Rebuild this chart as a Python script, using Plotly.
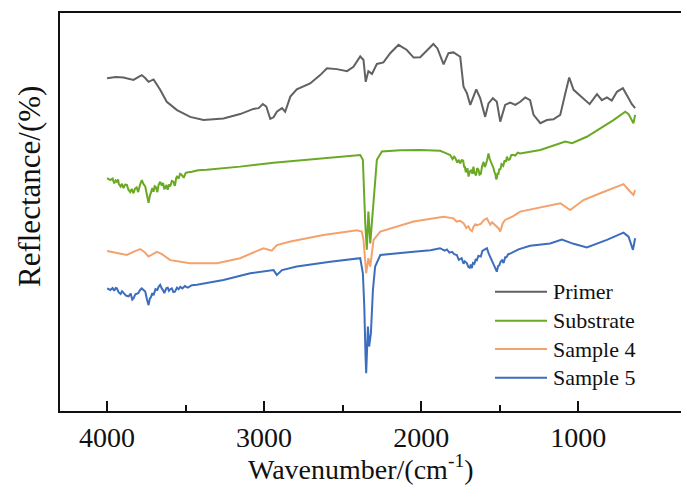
import plotly.graph_objects as go

# FTIR reflectance spectra (wavenumber in cm^-1, reflectance offset for display)
primer_wn = [4000, 3945, 3896, 3863, 3832, 3802, 3779, 3756, 3736, 3704, 3662, 3620, 3555, 3471,
             3386, 3259, 3153, 3068, 3035, 3008, 2986, 2961, 2940, 2919, 2886, 2866, 2833, 2792,
             2707, 2643, 2600, 2537, 2472, 2431, 2388, 2367, 2353, 2336, 2313, 2282, 2240, 2197,
             2144, 2091, 2048, 2006, 1963, 1922, 1896, 1857, 1826, 1794, 1751, 1730, 1708, 1687,
             1649, 1624, 1592, 1571, 1543, 1518, 1496, 1465, 1433, 1400, 1369, 1337, 1306, 1284,
             1241, 1199, 1157, 1114, 1082, 1057, 1029, 966, 927, 880, 849, 817, 786, 753, 715,
             679, 658, 637]
primer_r = [83.6, 83.9, 83.8, 83.5, 83.2, 83.9, 84.4, 83.6, 82.7, 83.3, 80.7, 77.7, 75.6, 73.9,
            73.1, 73.5, 74.6, 75.9, 76.1, 77.1, 76.5, 73.4, 73.8, 75.2, 76.1, 75.2, 79.0, 80.8,
            82.3, 84.4, 86.1, 85.9, 85.4, 86.5, 89.1, 88.2, 82.7, 85.4, 84.7, 87.2, 87.6, 89.9,
            92.0, 90.7, 88.8, 88.9, 90.7, 92.2, 91.1, 87.1, 89.9, 90.1, 89.0, 81.5, 79.8, 76.9,
            80.8, 78.6, 73.9, 77.3, 78.6, 77.7, 72.7, 76.9, 77.5, 76.9, 77.7, 78.8, 78.1, 74.4,
            72.3, 73.1, 73.3, 74.4, 79.8, 83.8, 80.7, 78.6, 77.1, 79.6, 78.1, 78.8, 78.0, 80.2, 81.1,
            78.6, 77.1, 76.1]

substrate_wn = [4000, 3980, 3965, 3955, 3945, 3938, 3930, 3925, 3914, 3905, 3896, 3885, 3874,
                3864, 3853, 3843, 3832, 3822, 3812, 3802, 3790, 3779, 3768, 3757, 3746, 3736,
                3728, 3721, 3712, 3704, 3697, 3690, 3680, 3672, 3662, 3652, 3644, 3636, 3630,
                3622, 3614, 3606, 3598, 3588, 3578, 3572, 3568, 3560, 3555, 3545, 3535, 3527,
                3518, 3512, 3500, 3492, 3460, 3420, 3365, 3153, 2940, 2622, 2388, 2371, 2367,
                2356, 2346, 2336, 2324, 2313, 2299, 2282, 2250, 2134, 2006, 1879, 1850, 1830,
                1815, 1800, 1790, 1783, 1770, 1760, 1751, 1742, 1732, 1726, 1722, 1716, 1712,
                1705, 1698, 1690, 1681, 1674, 1667, 1660, 1650, 1643, 1635, 1628, 1620, 1612,
                1602, 1595, 1589, 1580, 1571, 1563, 1553, 1546, 1539, 1533, 1528, 1522, 1518,
                1512, 1508, 1502, 1496, 1488, 1477, 1468, 1460, 1454, 1445, 1436, 1426, 1416,
                1400, 1385, 1369, 1241, 1114, 1082, 1039, 945, 775, 700, 679, 648, 637]
substrate_r = [58.5, 58.0, 58.4, 57.2, 57.9, 57.6, 58.2, 57.0, 56.4, 57.1, 56.0, 56.9, 56.8,
               55.6, 55.0, 55.8, 54.7, 55.9, 56.2, 55.0, 56.9, 58.0, 57.0, 56.4, 54.2, 52.3,
               54.0, 54.8, 56.0, 55.1, 56.5, 56.3, 55.0, 56.8, 57.6, 56.6, 57.3, 55.9, 56.0,
               56.8, 55.6, 56.9, 56.4, 57.8, 57.6, 56.9, 56.6, 58.6, 58.9, 58.4, 59.6, 59.4,
               58.8, 58.6, 59.8, 59.9, 60.1, 60.5, 60.6, 61.4, 62.4, 63.5, 64.3, 63.1, 58.0,
               47.2, 40.5, 50.1, 42.1, 47.2, 55.5, 63.1, 65.2, 65.5, 65.6, 65.4, 64.9, 64.5,
               64.3, 63.3, 63.9, 63.6, 62.4, 63.1, 62.2, 63.0, 62.9, 61.2, 61.5, 60.0, 60.2,
               61.0, 58.9, 60.1, 60.6, 59.6, 61.4, 59.8, 59.2, 61.0, 60.6, 59.4, 59.6, 61.5,
               62.6, 61.3, 61.8, 63.0, 64.7, 63.3, 62.4, 61.4, 61.0, 60.0, 59.6, 58.2, 58.5,
               59.9, 59.4, 60.9, 60.6, 62.0, 61.6, 63.0, 62.6, 63.9, 63.1, 63.2, 64.3, 64.4,
               64.2, 64.9, 64.7, 65.6, 67.3, 67.7, 67.3, 68.9, 73.1, 75.2, 74.6, 72.3, 74.4]

sample4_wn = [4000, 3945, 3916, 3874, 3833, 3789, 3761, 3736, 3683, 3651, 3598, 3471, 3300,
              3153, 3004, 2951, 2919, 2833, 2622, 2409, 2378, 2367, 2350, 2336, 2324, 2303,
              2260, 2048, 1857, 1794, 1775, 1752, 1730, 1712, 1700, 1687, 1676, 1666, 1655,
              1645, 1620, 1600, 1581, 1560, 1548, 1528, 1512, 1505, 1496, 1480, 1465, 1416,
              1369, 1263, 1114, 1051, 966, 860, 775, 711, 668, 648, 637]
sample4_r = [40.2, 39.8, 39.6, 39.2, 40.0, 40.7, 39.9, 38.8, 40.0, 39.4, 37.9, 37.1, 37.1,
             38.4, 40.9, 40.3, 41.7, 42.6, 44.2, 45.4, 45.1, 43.0, 34.6, 38.4, 36.3, 43.0,
             45.1, 47.6, 48.8, 48.4, 47.6, 47.8, 47.2, 46.0, 46.4, 45.5, 45.2, 46.3, 46.9,
             46.7, 47.0, 48.0, 48.4, 46.8, 47.4, 46.7, 46.2, 45.8, 45.1, 47.2, 48.0, 48.9,
             50.1, 50.9, 52.2, 50.5, 53.0, 54.7, 56.0, 57.0, 55.1, 54.3, 55.5]

sample5_wn = [4000, 3980, 3965, 3955, 3945, 3938, 3926, 3914, 3905, 3896, 3880, 3863, 3850,
              3840, 3832, 3820, 3802, 3790, 3779, 3768, 3757, 3746, 3736, 3728, 3721, 3712,
              3704, 3692, 3680, 3672, 3662, 3652, 3644, 3636, 3630, 3622, 3614, 3606, 3598,
              3588, 3578, 3568, 3555, 3545, 3534, 3520, 3505, 3486, 3460, 3428, 3259, 3088,
              2940, 2919, 2886, 2792, 2579, 2388, 2371, 2362, 2354, 2350, 2339, 2331, 2320,
              2307, 2293, 2260, 2048, 1940, 1880, 1850, 1836, 1820, 1803, 1790, 1773, 1760,
              1742, 1730, 1722, 1708, 1700, 1691, 1684, 1677, 1670, 1661, 1652, 1645, 1635,
              1620, 1610, 1600, 1581, 1570, 1559, 1549, 1539, 1530, 1518, 1510, 1502, 1494,
              1485, 1475, 1465, 1457, 1445, 1430, 1412, 1380, 1306, 1178, 1104, 1029, 945,
              817, 711, 679, 651, 637]
sample5_r = [30.8, 30.4, 30.9, 30.2, 30.9, 30.8, 29.8, 29.4, 30.1, 29.6, 29.0, 28.8, 29.5,
             28.0, 28.3, 29.3, 29.6, 30.4, 30.8, 30.4, 30.0, 28.0, 26.6, 28.2, 28.6, 29.6,
             29.1, 30.6, 30.4, 31.2, 31.7, 30.8, 30.4, 29.6, 30.0, 30.9, 31.0, 30.2, 30.6,
             30.8, 29.9, 30.0, 31.0, 30.6, 31.2, 30.8, 31.4, 31.0, 31.6, 31.7, 32.9, 34.6,
             35.4, 34.2, 35.4, 36.3, 37.5, 38.4, 34.6, 26.2, 13.6, 9.5, 21.2, 16.2, 19.5,
             30.4, 36.3, 39.2, 40.0, 40.4, 40.9, 40.3, 40.6, 39.8, 40.0, 39.4, 39.2, 38.0,
             38.4, 37.0, 37.6, 37.1, 36.2, 36.0, 36.8, 35.9, 37.2, 37.0, 38.2, 37.9, 39.0,
             38.8, 40.2, 40.4, 40.9, 39.6, 38.6, 37.4, 36.7, 35.8, 35.0, 36.4, 36.6, 37.5,
             37.9, 37.2, 38.6, 38.6, 39.4, 39.6, 40.0, 40.6, 41.5, 42.1, 43.1, 42.0, 41.1,
             43.0, 44.8, 43.8, 40.5, 43.4]

series = [
    ("Primer", primer_wn, primer_r, "#616161"),
    ("Substrate", substrate_wn, substrate_r, "#6aa923"),
    ("Sample 4", sample4_wn, sample4_r, "#f4a26b"),
    ("Sample 5", sample5_wn, sample5_r, "#3d6dbd"),
]

FONT = "Liberation Serif, Times New Roman, serif"
W, H = 681, 488

fig = go.Figure()
for name, wn, r, color in series:
    fig.add_trace(go.Scatter(x=wn, y=r, name=name, mode="lines",
                             line=dict(color=color, width=2), showlegend=False))

# Plot-area edges in pixels; the frame runs off the right edge of the canvas
plot_l, plot_r, plot_t, plot_b = 60, W, 13, 411
def px_x(px):
    return (px - plot_l) / (plot_r - plot_l)
def px_y(py):
    return (plot_b - py) / (plot_b - plot_t)

# Legend: line samples with labels in the lower right of the plot
legend_rows = [291.7, 320.7, 349.0, 377.7]
for (name, _, _, color), py in zip(series, legend_rows):
    fig.add_shape(type="line", xref="paper", yref="paper",
                  x0=px_x(495), x1=px_x(547), y0=px_y(py), y1=px_y(py),
                  line=dict(color=color, width=2))
    fig.add_annotation(xref="paper", yref="paper", x=px_x(551), y=px_y(py),
                       text=name, showarrow=False, xanchor="left", yanchor="middle",
                       font=dict(family=FONT, size=22, color="#111"))

fig.add_annotation(xref="paper", yref="paper", x=px_x(361), y=px_y(467),
                   text="Wavenumber/(cm<sup>-1</sup>)", showarrow=False,
                   xanchor="center", yanchor="middle",
                   font=dict(family=FONT, size=28, color="#111"))
fig.add_annotation(xref="paper", yref="paper", x=px_x(29), y=px_y(187),
                   text="Reflectance/(%)", showarrow=False, textangle=-90,
                   xanchor="center", yanchor="middle",
                   font=dict(family=FONT, size=31, color="#111"))

fig.update_layout(
    width=W, height=H,
    margin=dict(l=plot_l, r=W - plot_r, t=plot_t, b=H - plot_b),
    paper_bgcolor="white", plot_bgcolor="white",
    font=dict(family=FONT, color="#111"),
)
fig.update_xaxes(
    range=[4300, 345], tickvals=[4000, 3000, 2000, 1000],
    ticks="inside", ticklen=10, tickwidth=2, tickcolor="#111",
    minor=dict(tickvals=[3500, 2500, 1500], ticks="inside", ticklen=6, tickwidth=2, tickcolor="#111"),
    showline=True, linewidth=2, linecolor="#111", mirror=True,
    showgrid=False, zeroline=False,
    tickfont=dict(family=FONT, size=28, color="#111"),
)
fig.update_yaxes(
    range=[0, 100], showticklabels=False, ticks="",
    showline=True, linewidth=2, linecolor="#111", mirror=False,
    showgrid=False, zeroline=False,
)

fig.write_html("out.html")
